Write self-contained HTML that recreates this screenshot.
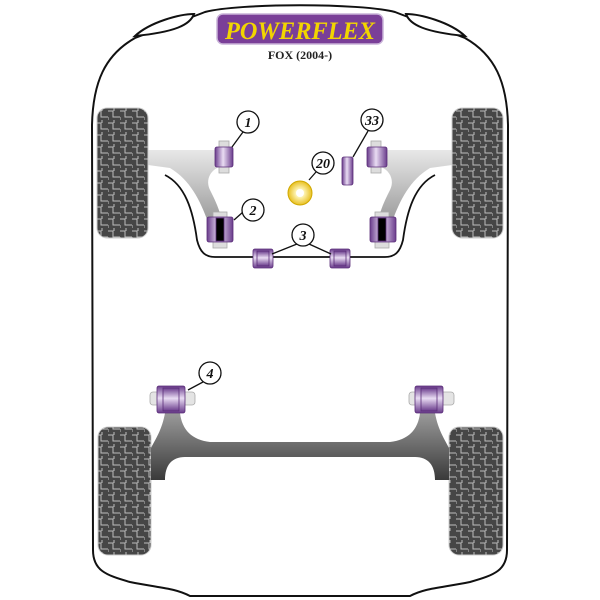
<!DOCTYPE html>
<html><head><meta charset="utf-8"><style>
html,body{margin:0;padding:0;background:#fff;}
svg{display:block}
</style></head><body>
<svg width="600" height="600" viewBox="0 0 600 600" xmlns="http://www.w3.org/2000/svg">
<defs>
<pattern id="tread" width="12" height="12" patternUnits="userSpaceOnUse">
<rect width="12" height="12" fill="#464646"/>
<path d="M0 3 H5 V9 H12 M6 0 V3 M0 9 V12" stroke="#bdbdbd" stroke-width="1" fill="none"/>
</pattern>
<linearGradient id="pur" x1="0" x2="0" y1="0" y2="1">
<stop offset="0" stop-color="#6a3c8c"/><stop offset="0.45" stop-color="#e9dcf3"/><stop offset="1" stop-color="#6a3c8c"/>
</linearGradient>
<linearGradient id="purv" x1="0" x2="1" y1="0" y2="0">
<stop offset="0" stop-color="#6a3c8c"/><stop offset="0.45" stop-color="#e9dcf3"/><stop offset="1" stop-color="#6a3c8c"/>
</linearGradient>
<linearGradient id="armg" x1="0" x2="0" y1="0" y2="1">
<stop offset="0" stop-color="#e8e8e8"/><stop offset="1" stop-color="#9a9a9a"/>
</linearGradient>
<linearGradient id="beam" x1="0" x2="0" y1="0" y2="1">
<stop offset="0" stop-color="#9a9a9a"/><stop offset="1" stop-color="#3a3a3a"/>
</linearGradient>
<radialGradient id="yel"><stop offset="0.3" stop-color="#fff7c0"/><stop offset="1" stop-color="#e8c020"/></radialGradient>
</defs>

<!-- body -->
<path d="M93,550 L92,125 C93,82 105,55 135,38 C160,28 185,20 205,12 C240,3 360,3 395,12 C415,20 440,28 465,38 C495,55 507,82 508,125 L507,550 C507,570 495,575 470,582 C440,588 425,588 410,596 L190,596 C175,588 160,588 130,582 C105,575 93,570 93,550 Z" fill="#fff" stroke="#111" stroke-width="2"/>
<path d="M135,36 C150,22 180,14 194,14 C190,25 175,32 135,36 Z" fill="#fff" stroke="#111" stroke-width="2"/>
<path d="M465,36 C450,22 420,14 406,14 C410,25 425,32 465,36 Z" fill="#fff" stroke="#111" stroke-width="2"/>

<!-- logo -->
<rect x="217" y="14" width="166" height="30" rx="6" fill="#7a3f98" stroke="#c9b4d8" stroke-width="1.5"/>
<text x="300" y="39" text-anchor="middle" font-family="Liberation Serif, serif" font-weight="bold" font-style="italic" font-size="25" fill="#f2d500" textLength="150" lengthAdjust="spacingAndGlyphs">POWERFLEX</text>
<text x="300" y="59" text-anchor="middle" font-family="Liberation Serif, serif" font-weight="bold" font-size="12" fill="#222">FOX (2004-)</text>

<!-- front subframe line -->
<path d="M165,175 C185,185 193,210 197,240 C200,252 205,257 215,257 L385,257 C395,257 400,252 403,240 C407,210 415,185 435,175" fill="none" stroke="#111" stroke-width="1.8"/>

<!-- front arms -->
<path d="M148,150 L222,150 L225,165 C210,168 205,180 210,190 C215,200 220,210 222,222 L208,222 C200,200 190,180 170,168 L148,165 Z" fill="url(#armg)"/>
<path d="M452,150 L378,150 L375,165 C390,168 395,180 390,190 C385,200 380,210 378,222 L392,222 C400,200 410,180 430,168 L452,165 Z" fill="url(#armg)"/>

<!-- tires -->
<rect x="97" y="108" width="51" height="130" rx="10" fill="url(#tread)" stroke="#ccc"/>
<rect x="452" y="108" width="51" height="130" rx="10" fill="url(#tread)" stroke="#ccc"/>
<rect x="98" y="427" width="53" height="128" rx="10" fill="url(#tread)" stroke="#ccc"/>
<rect x="449" y="427" width="54" height="128" rx="10" fill="url(#tread)" stroke="#ccc"/>

<!-- rear beam -->
<path d="M165,413 L180,413 C182,430 192,440 210,442 L390,442 C408,440 418,430 420,413 L435,413 C438,430 445,440 449,448 L449,480 L435,480 C435,465 428,457 415,457 L185,457 C172,457 165,465 165,480 L151,480 L151,448 C155,440 162,430 165,413 Z" fill="url(#beam)"/>

<!-- bushes -->
<g stroke="#5a2d78" stroke-width="0.8">
<rect x="219" y="141" width="10" height="32" fill="#ddd" stroke="#aaa"/>
<rect x="215" y="147" width="18" height="20" rx="2" fill="url(#purv)"/>
<rect x="371" y="141" width="10" height="32" fill="#ddd" stroke="#aaa"/>
<rect x="367" y="147" width="20" height="20" rx="2" fill="url(#purv)"/>
<rect x="213" y="212" width="14" height="36" fill="#ddd" stroke="#aaa"/>
<rect x="207" y="217" width="26" height="25" rx="2" fill="url(#purv)"/>
<rect x="216" y="218" width="8" height="23" fill="#000"/>
<rect x="375" y="212" width="14" height="36" fill="#ddd" stroke="#aaa"/>
<rect x="370" y="217" width="26" height="25" rx="2" fill="url(#purv)"/>
<rect x="378" y="218" width="8" height="23" fill="#000"/>
<rect x="253" y="249" width="20" height="19" rx="2" fill="url(#pur)"/>
<rect x="257" y="251" width="12" height="15" fill="url(#pur)"/>
<rect x="330" y="249" width="20" height="19" rx="2" fill="url(#pur)"/>
<rect x="334" y="251" width="12" height="15" fill="url(#pur)"/>
<rect x="342" y="157" width="11" height="28" rx="2" fill="url(#purv)"/>
<rect x="150" y="392" width="45" height="13" rx="3" fill="#e4e4e4" stroke="#aaa"/>
<rect x="157" y="386" width="28" height="27" rx="2" fill="url(#pur)"/>
<rect x="163" y="388" width="16" height="23" fill="url(#pur)"/>
<rect x="409" y="392" width="45" height="13" rx="3" fill="#e4e4e4" stroke="#aaa"/>
<rect x="415" y="386" width="28" height="27" rx="2" fill="url(#pur)"/>
<rect x="421" y="388" width="16" height="23" fill="url(#pur)"/>
</g>
<circle cx="300" cy="193" r="12" fill="url(#yel)" stroke="#d0a800"/>
<circle cx="300" cy="193" r="4" fill="#fff"/>

<!-- labels -->
<g fill="#fff" stroke="#111" stroke-width="1.3">
<line x1="243" y1="132" x2="232" y2="147"/>
<line x1="243" y1="212" x2="234" y2="220"/>
<line x1="297" y1="244" x2="272" y2="254"/>
<line x1="309" y1="244" x2="331" y2="254"/>
<line x1="316" y1="172" x2="309" y2="180"/>
<line x1="368" y1="131" x2="353" y2="157"/>
<line x1="203" y1="382" x2="188" y2="390"/>
<circle cx="248" cy="122" r="11"/><circle cx="253" cy="210" r="11"/>
<circle cx="303" cy="235" r="11"/><circle cx="323" cy="163" r="11"/>
<circle cx="372" cy="120" r="11"/><circle cx="210" cy="373" r="11"/>
</g>
<g fill="#111" font-family="Liberation Serif, serif" font-weight="bold" font-style="italic" font-size="14" text-anchor="middle">
<text x="248" y="127">1</text><text x="253" y="215">2</text><text x="303" y="240">3</text>
<text x="323" y="168">20</text><text x="372" y="125">33</text><text x="210" y="378">4</text>
</g>
</svg>
</body></html>
